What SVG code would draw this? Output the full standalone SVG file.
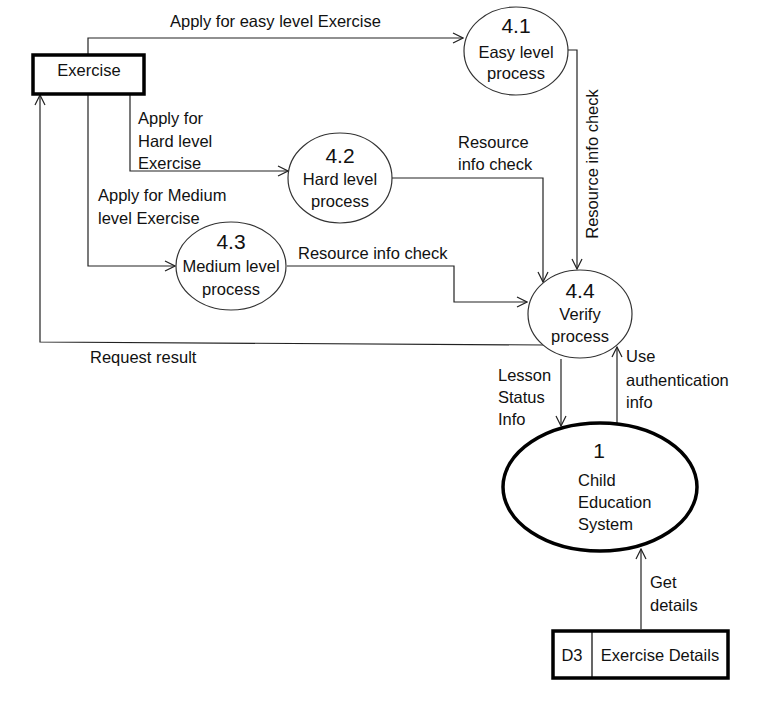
<svg xmlns="http://www.w3.org/2000/svg" width="765" height="702" viewBox="0 0 765 702">
<style>
text{font-family:"Liberation Sans",Arial,sans-serif;font-size:16.5px;fill:#111}
.num{font-size:21px}
.c{text-anchor:middle}
.ln{fill:none;stroke:#222;stroke-width:1.2}
.thin{fill:#fff;stroke:#333;stroke-width:1.2}
.thick{fill:#fff;stroke:#000;stroke-width:3.5}
</style>
<defs>
<marker id="ar" viewBox="0 0 12 12" refX="11" refY="6" markerWidth="12" markerHeight="12" markerUnits="userSpaceOnUse" orient="auto">
<polyline points="1,1 11,6 1,11" fill="none" stroke="#222" stroke-width="1.2"/>
</marker>
</defs>
<rect width="765" height="702" fill="#fff"/>
<g id="connectors">
<polyline class="ln" points="88,55 88,38 463,38" marker-end="url(#ar)"/>
<polyline class="ln" points="568,50 577,50 577,269" marker-end="url(#ar)"/>
<polyline class="ln" points="130,94 130,171 288,171" marker-end="url(#ar)"/>
<polyline class="ln" points="392,178 543,178 543,282" marker-end="url(#ar)"/>
<polyline class="ln" points="88,94 88,266 175,266" marker-end="url(#ar)"/>
<polyline class="ln" points="287,266 454,266 454,302 527,302" marker-end="url(#ar)"/>
<polyline class="ln" points="546,345 40,342 40,95" marker-end="url(#ar)"/>
<line class="ln" x1="561" y1="359" x2="561" y2="426" marker-end="url(#ar)"/>
<line class="ln" x1="617" y1="423" x2="617" y2="347" marker-end="url(#ar)"/>
<line class="ln" x1="641" y1="629" x2="641" y2="549" marker-end="url(#ar)"/>
<text x="170" y="27">Apply for easy level Exercise</text>
<text transform="translate(598,164) rotate(-90)" class="c">Resource info check</text>
<text x="138" y="124">Apply for</text>
<text x="138" y="147">Hard level</text>
<text x="138" y="169">Exercise</text>
<text x="458" y="148">Resource</text>
<text x="458" y="170">info check</text>
<text x="98" y="201">Apply for Medium</text>
<text x="98" y="224">level Exercise</text>
<text x="298" y="259">Resource info check</text>
<text x="90" y="363">Request result</text>
<text x="498" y="381">Lesson</text>
<text x="498" y="403">Status</text>
<text x="498" y="425">Info</text>
<text x="626" y="362">Use</text>
<text x="626" y="386">authentication</text>
<text x="626" y="408">info</text>
<text x="650" y="588">Get</text>
<text x="650" y="611">details</text>
</g>
<g id="exercise">
<rect class="thick" x="33" y="55" width="111" height="39" stroke-width="3"/>
<text x="89" y="76" class="c">Exercise</text>
</g>
<g id="p41">
<ellipse class="thin" cx="516" cy="51" rx="52" ry="44"/>
<text x="516" y="33" class="c num">4.1</text>
<text x="516" y="58" class="c">Easy level</text>
<text x="516" y="79" class="c">process</text>
</g>
<g id="p42">
<ellipse class="thin" cx="340" cy="178" rx="52" ry="45"/>
<text x="340" y="163" class="c num">4.2</text>
<text x="340" y="185" class="c">Hard level</text>
<text x="340" y="207" class="c">process</text>
</g>
<g id="p43">
<ellipse class="thin" cx="231" cy="266" rx="55" ry="44"/>
<text x="231" y="249" class="c num">4.3</text>
<text x="231" y="272" class="c">Medium level</text>
<text x="231" y="295" class="c">process</text>
</g>
<g id="p44">
<ellipse class="thin" cx="580" cy="314" rx="52" ry="44"/>
<text x="580" y="298" class="c num">4.4</text>
<text x="580" y="320" class="c">Verify</text>
<text x="580" y="342" class="c">process</text>
</g>
<g id="p1">
<ellipse class="thick" cx="600" cy="487" rx="97" ry="64" stroke-width="3"/>
<text x="599" y="458" class="c num">1</text>
<text x="578" y="486">Child</text>
<text x="578" y="508">Education</text>
<text x="578" y="530">System</text>
</g>
<g id="d3">
<rect class="thick" x="553" y="631" width="175" height="47" stroke-width="3"/>
<line x1="592" y1="631" x2="592" y2="678" stroke="#000" stroke-width="1.2"/>
<text x="572" y="661" class="c">D3</text>
<text x="660" y="661" class="c">Exercise Details</text>
</g>
</svg>
